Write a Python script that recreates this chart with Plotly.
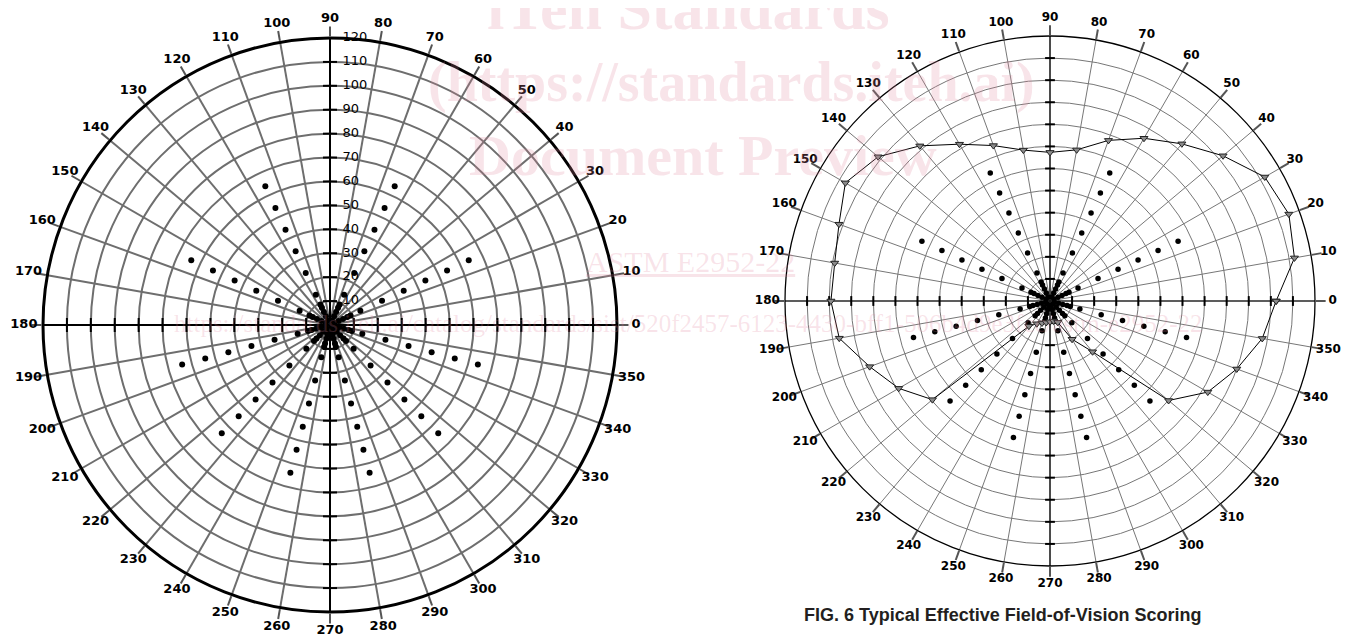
import plotly.graph_objects as go

# ---------------- data ----------------
angle_ticks = list(range(0, 360, 10))
angle_labels = [str(a) for a in angle_ticks]
radial_ticks = [10, 20, 30, 40, 50, 60, 70, 80, 90, 100, 110]
radial_labels_vals = [10, 20, 30, 40, 50, 60, 70, 80, 90, 100, 110, 120]

ray_angles = [25, 65, 115, 155, 195, 225, 255, 285, 315, 345]
ray_radii = [2, 4, 6, 8, 9.5, 14, 24, 34, 44, 54, 64]

# effective field-of-vision boundary (right chart)
fov_theta = [0, 10, 20, 30, 40, 50, 60, 70, 80, 90, 100, 110, 120, 130, 140, 150,
             160, 170, 180, 190, 200, 210, 220, 230, 240, 250, 260, 270, 280, 290,
             300, 310, 320, 330, 340, 350, 0]
fov_r = [102.4, 112.4, 115.1, 112.3, 102.3, 92.9, 85.1, 77.4, 69.5, 67.3, 69.4, 74.9,
         82.0, 91.7, 101.6, 107.0, 101.7, 99.0, 99.2, 96.9, 86.9, 79.1, 69.5, 14.9,
         11.9, 10.6, 9.9, 9.4, 9.2, 10.3, 20.0, 30.0, 70.1, 82.5, 90.0, 97.6, 102.4]

caption = "FIG. 6 Typical Effective Field-of-Vision Scoring"
RMAX = 120
LABEL_RANGE = 130   # scale of the overlay used for the angle labels
LABEL_R = 128       # radius at which the angle labels sit

dot_theta = []
dot_r = []
for a in ray_angles:
    for rr in ray_radii:
        dot_theta.append(a)
        dot_r.append(rr)

W, H = 1357, 638
OFF = 8  # page body margin of the html page


def dom(cx, cy, R):
    cx -= OFF
    cy -= OFF
    return dict(x=[(cx - R) / W, (cx + R) / W],
                y=[(H - cy - R) / H, (H - cy + R) / H])


fig = go.Figure()


def add_chart(sub, label_sub, axis_w, tick_size, dot_size, label_size):
    # black main axes
    fig.add_trace(go.Scatterpolar(r=[RMAX, 0, RMAX], theta=[0, 0, 180], mode="lines",
                                  line=dict(color="black", width=axis_w),
                                  subplot=sub, showlegend=False, hoverinfo="skip"))
    fig.add_trace(go.Scatterpolar(r=[RMAX, 0, RMAX], theta=[90, 90, 270], mode="lines",
                                  line=dict(color="black", width=axis_w),
                                  subplot=sub, showlegend=False, hoverinfo="skip"))
    # tick marks on main axes
    fig.add_trace(go.Scatterpolar(r=radial_ticks * 2, theta=[0] * len(radial_ticks) + [180] * len(radial_ticks),
                                  mode="markers",
                                  marker=dict(symbol="line-ns", size=tick_size,
                                              line=dict(color="black", width=2)),
                                  subplot=sub, showlegend=False, hoverinfo="skip"))
    fig.add_trace(go.Scatterpolar(r=radial_ticks * 2, theta=[90] * len(radial_ticks) + [270] * len(radial_ticks),
                                  mode="markers",
                                  marker=dict(symbol="line-ew", size=tick_size,
                                              line=dict(color="black", width=2)),
                                  subplot=sub, showlegend=False, hoverinfo="skip"))
    fig.add_trace(go.Scatterpolar(r=dot_r, theta=dot_theta, mode="markers",
                                  marker=dict(symbol="circle", size=dot_size, color="black"),
                                  subplot=sub, showlegend=False, hoverinfo="skip"))
    # angle labels, centred on their ray just outside the circle (overlay subplot)
    fig.add_trace(go.Scatterpolar(r=[LABEL_R] * len(angle_ticks), theta=angle_ticks,
                                  mode="text", text=angle_labels, textposition="middle center",
                                  cliponaxis=False,
                                  textfont=dict(family="DejaVu Sans", size=label_size,
                                                color="black", weight="bold"),
                                  subplot=label_sub, showlegend=False, hoverinfo="skip"))


add_chart("polar", "polar3", 2, 10, 6, 13)
add_chart("polar2", "polar4", 1.2, 7, 5.5, 12)

# radial labels on left chart
fig.add_trace(go.Scatterpolar(r=radial_labels_vals, theta=[90] * len(radial_labels_vals),
                              mode="text", text=["\u00a0\u00a0\u00a0" + str(v) for v in radial_labels_vals],
                              textposition="middle right", cliponaxis=False,
                              textfont=dict(family="DejaVu Sans", size=13, color="black"),
                              subplot="polar", showlegend=False, hoverinfo="skip"))

# FOV boundary
fig.add_trace(go.Scatterpolar(r=fov_r, theta=fov_theta, mode="lines+markers",
                              line=dict(color="black", width=1),
                              marker=dict(symbol="triangle-down", size=7, color="#8a8a8a",
                                          line=dict(color="#222", width=1)),
                              subplot="polar2", showlegend=False, hoverinfo="skip"))


def polar_layout(d, grid_color, grid_w, line_w):
    return dict(
        domain=d, bgcolor="white",
        radialaxis=dict(range=[0, RMAX], tickvals=radial_labels_vals, showticklabels=False,
                        ticks="", showline=False, gridcolor=grid_color, gridwidth=grid_w,
                        angle=90),
        angularaxis=dict(rotation=0, direction="counterclockwise",
                         tickvals=angle_ticks, showticklabels=False,
                         ticks="outside", ticklen=10, tickcolor="#555", tickwidth=1.5,
                         showline=True, linecolor="black", linewidth=line_w,
                         gridcolor=grid_color, gridwidth=grid_w),
    )


def label_layout(d):
    return dict(
        domain=d, bgcolor="rgba(0,0,0,0)",
        radialaxis=dict(range=[0, LABEL_RANGE], visible=False, showgrid=False),
        angularaxis=dict(rotation=0, direction="counterclockwise", visible=False,
                         showgrid=False, showline=False, ticks=""),
    )


wm = "rgba(225,130,155,0.22)"
annotations = [
    dict(text="iTeh Standards", x=688, y=8, font=dict(family="Liberation Serif", size=62,
         color=wm, weight="bold")),
    dict(text="(https://standards.iteh.ai)", x=731, y=82, font=dict(family="Liberation Serif",
         size=56, color=wm, weight="bold")),
    dict(text="Document Preview", x=703, y=155, font=dict(family="Liberation Serif", size=58,
         color=wm, weight="bold")),
    dict(text="<u>ASTM E2952-22</u>", x=690, y=262, font=dict(family="Liberation Serif",
         size=30, color=wm)),
    dict(text="https://standards.iteh.ai/catalog/standards/sist/520f2457-6123-4430-bff1-506b4d9e3fcc/astm-e2952-22",
         x=688, y=323, font=dict(family="Liberation Serif", size=25, color=wm)),
    dict(text="<b>" + caption + "</b>", x=1002, y=615,
         font=dict(family="Liberation Sans", size=18, color="#231f20")),
]
for a in annotations:
    a.update(xref="paper", yref="paper", showarrow=False, xanchor="center", yanchor="middle")
    a["x"] = (a["x"] - OFF) / W
    a["y"] = 1 - (a["y"] - OFF) / H

scale = LABEL_RANGE / RMAX
fig.update_layout(
    width=W, height=H, autosize=False,
    margin=dict(l=0, r=0, t=0, b=0),
    paper_bgcolor="white", plot_bgcolor="white",
    polar=polar_layout(dom(330, 325, 287), "#6e6e6e", 2, 3),
    polar2=polar_layout(dom(1050, 301, 265), "#777777", 1, 1.3),
    polar3=label_layout(dom(330, 325, 287 * scale)),
    polar4=label_layout(dom(1050, 301, 265 * scale)),
    annotations=annotations,
    showlegend=False,
)

fig.write_html("out.html")
